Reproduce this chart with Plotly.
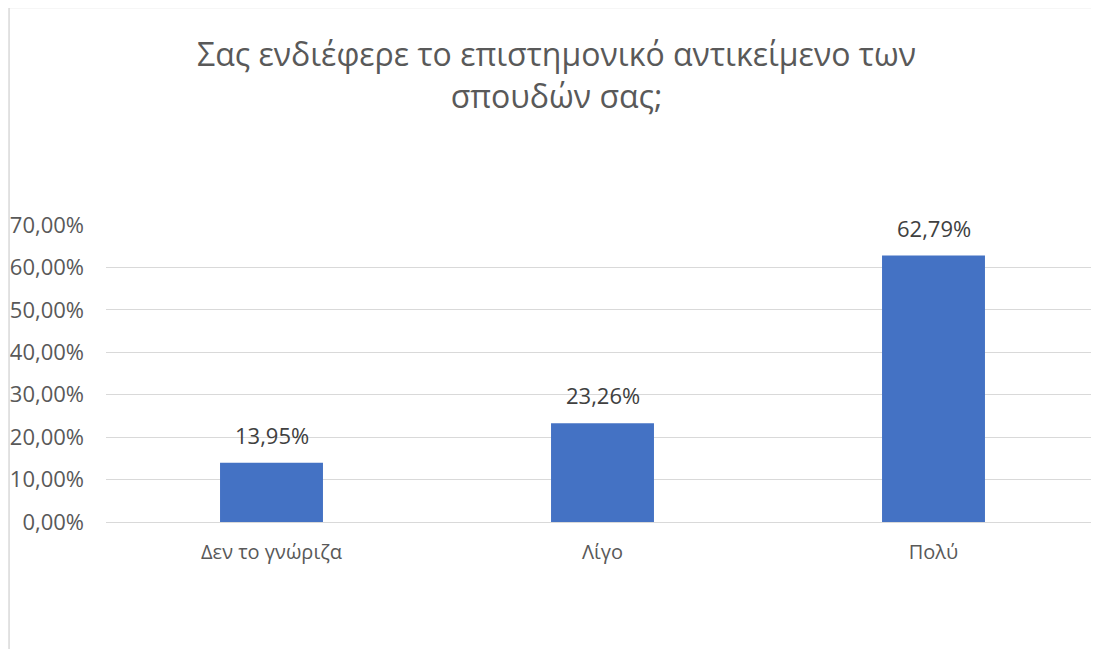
import plotly.graph_objects as go

categories = ["Δεν το γνώριζα", "Λίγο", "Πολύ"]
values = [0.1395, 0.2326, 0.6279]
title_text = "Σας ενδιέφερε το επιστημονικό αντικείμενο των<br>σπουδών σας;"
y_ticks = [0, 0.1, 0.2, 0.3, 0.4, 0.5, 0.6, 0.7]

# page body has an 8px margin, so the figure is drawn 8px in from the window edge
OFF = 8
W, H = 1099 - OFF, 649 - OFF
ML, MR, MT, MB = 105.5 - OFF, 0, 225 - OFF, 127
PW = W - ML - MR
PH = H - MT - MB

def px_x(x):
    return (x - OFF - ML) / PW

def px_y(y):
    return (H - MB - (y - OFF)) / PH

FONT = "Open Sans"

fig = go.Figure()
fig.add_trace(go.Bar(
    x=categories, y=values,
    marker=dict(color="#4472C4", line=dict(width=0)),
    hoverinfo="skip",
))

for c, v in zip(categories, values):
    fig.add_annotation(
        x=c, y=v, xref="x", yref="y",
        text=f"{v*100:.2f}%".replace(".", ","),
        showarrow=False, yanchor="bottom", yshift=11,
        font=dict(family=FONT, size=22, color="#404040"),
    )

fig.update_layout(
    width=W, height=H,
    margin=dict(l=ML, r=MR, t=MT, b=MB, autoexpand=False),
    paper_bgcolor="white", plot_bgcolor="white",
    separators=",.",
    bargap=0.689,
    showlegend=False,
    title=dict(
        text=title_text,
        x=(556.5 - OFF) / W, xanchor="center", xref="container",
        y=1 - 58 / H, yanchor="top", yref="container",
        font=dict(family=FONT, size=32, color="#595959"),
    ),
    font=dict(family=FONT, color="#595959"),
    xaxis=dict(
        showgrid=False, showline=False, zeroline=False,
        ticks="", ticklabelstandoff=16,
        tickfont=dict(family=FONT, size=20, color="#595959"),
    ),
    yaxis=dict(
        range=[0, 0.7], tickvals=y_ticks, tickformat=".2%",
        showgrid=True, gridcolor="#d9d9d9", gridwidth=1,
        zeroline=True, zerolinecolor="#d9d9d9", zerolinewidth=1,
        showline=False, ticks="", ticklabelstandoff=21,
        tickfont=dict(family=FONT, size=22, color="#595959"),
    ),
    shapes=[
        dict(type="line", xref="paper", yref="paper",
             x0=px_x(8.5), x1=px_x(8.5), y0=px_y(7.5), y1=px_y(670),
             line=dict(color="#d9d9d9", width=1.5)),
        dict(type="line", xref="paper", yref="paper",
             x0=px_x(8.5), x1=px_x(1120), y0=px_y(7.5), y1=px_y(7.5),
             line=dict(color="#d9d9d9", width=1.5)),
    ],
)

fig.write_html("out.html")
